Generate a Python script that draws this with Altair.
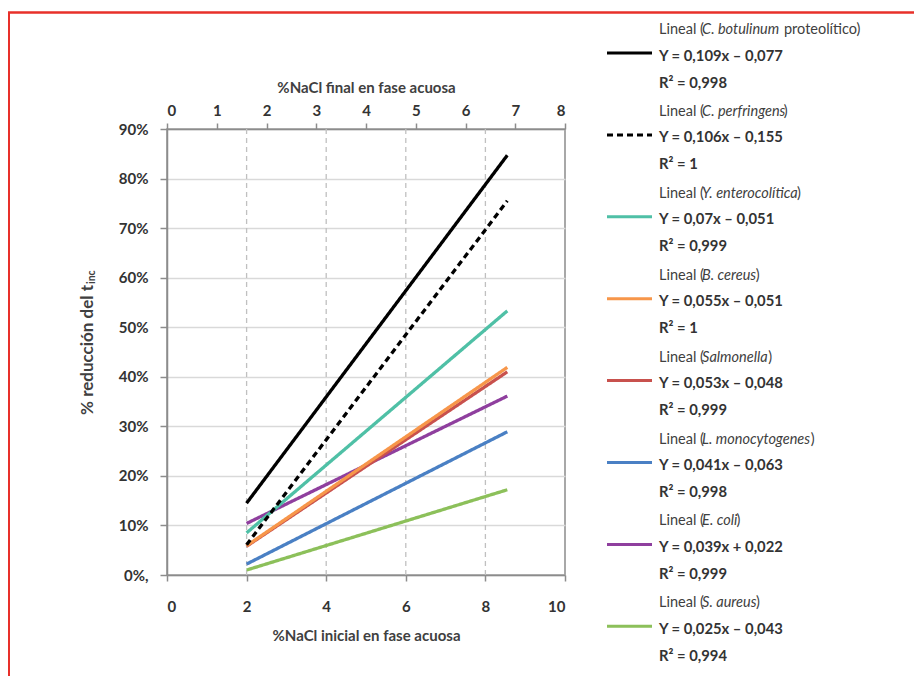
import altair as alt
import pandas as pd

# ---------------- data ----------------
species = ["C. botulinum", "C. perfringens", "Y. enterocolítica", "B. cereus",
           "Salmonella", "L. monocytogenes", "E. coli", "S. aureus"]
species_suffix = [" proteolítico)", ")", ")", ")", ")", ")", ")", ")"]
equations = ["Y = 0,109x – 0,077", "Y = 0,106x – 0,155", "Y = 0,07x – 0,051",
             "Y = 0,055x – 0,051", "Y = 0,053x – 0,048", "Y = 0,041x – 0,063",
             "Y = 0,039x + 0,022", "Y = 0,025x – 0,043"]
r_squared = ["0,998", "1", "0,999", "1", "0,999", "0,998", "0,999", "0,994"]
x_from = [2.0, 2.0, 2.0, 2.0, 2.0, 2.0, 2.0, 2.0]
x_to = [8.55, 8.55, 8.55, 8.55, 8.55, 8.55, 8.55, 8.55]
y_from = [0.145, 0.061, 0.085, 0.059, 0.058, 0.022, 0.104, 0.010]
y_to = [0.847, 0.755, 0.533, 0.419, 0.410, 0.289, 0.361, 0.172]
line_colors = ["#000000", "#000000", "#4fc0a6", "#f7964a", "#c8514d",
               "#4a80c4", "#8f3f9e", "#8cc05a"]
line_dash = [[1, 0], [6, 4], [1, 0], [1, 0], [1, 0], [1, 0], [1, 0], [1, 0]]

x_bottom_ticks = [0, 2, 4, 6, 8, 10]
x_grid_ticks = [2, 4, 6, 8]
x_top_ticks = [0, 1, 2, 3, 4, 5, 6, 7, 8]
y_ticks = [0, 0.1, 0.2, 0.3, 0.4, 0.5, 0.6, 0.7, 0.8, 0.9]

FONT = "Lato"
TXT = "#404040"
AX = "#8c8c8c"

# ---------------- helpers ----------------
W = {" ": .193, "(": .29, ")": .29, ".": .21, "L": .49, "i": .23, "n": .55,
     "e": .50, "a": .49, "l": .23, "C": .64, "b": .58, "o": .56, "t": .34,
     "u": .58, "m": .90, "p": .55, "r": .34, "f": .29, "g": .48, "s": .40,
     "Y": .58, "c": .44, "í": .23, "B": .60, "S": .49, "E": .52, "y": .48,
     "d": .55, "h": .55}


def text_width(s, size, factor=1.0):
    return sum(W.get(ch, .5) for ch in s) * size * factor


LEG_FS = 14.5
X_SYM0, X_SYM1, X_TXT = 440, 485, 492
rows = []
syms = []
for k, name in enumerate(species):
    base = -99 + 81.9 * k
    x1 = X_TXT + text_width("Lineal (", LEG_FS)
    x2 = x1 + text_width(name, LEG_FS, 0.96) + 1.2
    suf = species_suffix[k]
    lead = len(suf) - len(suf.lstrip(" "))
    x2 += text_width(" " * lead, LEG_FS)
    rows.append({"text": "Lineal (", "xp": X_TXT, "yp": base, "st": "n"})
    rows.append({"text": name, "xp": x1, "yp": base, "st": "i"})
    rows.append({"text": suf.lstrip(" "), "xp": x2, "yp": base, "st": "n"})
    rows.append({"text": equations[k], "xp": X_TXT, "yp": base + 26.5, "st": "b"})
    rows.append({"text": "R² = " + r_squared[k], "xp": X_TXT, "yp": base + 53.5, "st": "b"})
    syms.append({"species": name, "yp": base + 23})
leg_df = pd.DataFrame(rows)
sym_df = pd.DataFrame(syms)

xs = alt.Scale(domain=[0, 10], nice=False)
ys = alt.Scale(domain=[0, 0.9], nice=False)
color_scale = alt.Scale(domain=species, range=line_colors)
dash_scale = alt.Scale(domain=species, range=line_dash)

x_axis = alt.Axis(values=x_bottom_ticks, title="%NaCl inicial en fase acuosa",
                  grid=False, tickSize=6, labelPadding=18, titlePadding=14)
y_axis = alt.Axis(values=y_ticks, format=".0%", title=None, grid=True,
                  gridColor="#d9d9d9", gridWidth=1.3, tickSize=7, labelPadding=12,
                  labelExpr="datum.value == 0 ? '0%,' : format(datum.value, '.0%')")

grid = alt.Chart(pd.DataFrame({"x": x_grid_ticks})).mark_rule(
    color="#c0c0c0", strokeDash=[5, 4], strokeWidth=1.3
).encode(x=alt.X("x:Q", scale=xs, axis=x_axis))

lines_df = pd.DataFrame({"species": species, "x": x_from, "x2": x_to,
                         "y": y_from, "y2": y_to}).iloc[::-1]
lines = alt.Chart(lines_df).mark_rule(strokeWidth=3.3).encode(
    x=alt.X("x:Q", scale=xs, axis=x_axis),
    x2="x2:Q",
    y=alt.Y("y:Q", scale=ys, axis=y_axis),
    y2="y2:Q",
    color=alt.Color("species:N", scale=color_scale, legend=None),
    strokeDash=alt.StrokeDash("species:N", scale=dash_scale, legend=None),
)

main = alt.layer(grid, lines)

top = alt.Chart(pd.DataFrame({"t": x_top_ticks})).mark_point(opacity=0).encode(
    x=alt.X("t:Q", scale=alt.Scale(domain=[0, 8], nice=False),
            axis=alt.Axis(orient="top", values=x_top_ticks,
                          title="%NaCl final en fase acuosa", grid=False,
                          tickSize=6, labelPadding=5, titlePadding=8))
)

sym = alt.Chart(sym_df).mark_rule(strokeWidth=3).encode(
    x=alt.value(X_SYM0), x2=alt.value(X_SYM1),
    y=alt.Y("yp:Q", scale=None, axis=None),
    color=alt.Color("species:N", scale=color_scale, legend=None),
    strokeDash=alt.StrokeDash("species:N", scale=dash_scale, legend=None),
)


def leg_text(style, size=LEG_FS, color=TXT, **kw):
    return alt.Chart(leg_df).transform_filter(
        alt.datum.st == style
    ).mark_text(align="left", baseline="middle", font=FONT, fontSize=size,
                color=color, **kw).encode(
        x=alt.X("xp:Q", scale=None, axis=None),
        y=alt.Y("yp:Q", scale=None, axis=None),
        text="text:N",
    )


leg_n = leg_text("n")
leg_i = leg_text("i", fontStyle="italic")
leg_b = leg_text("b", size=14.8, color="#333333", fontWeight="bold")

one = pd.DataFrame({"a": [0]})
ytitle = alt.Chart(one).mark_text(
    text="% reducción del t", angle=270, align="right", baseline="middle",
    font=FONT, fontSize=17, fontWeight="bold", color=TXT
).encode(x=alt.value(-79), y=alt.value(156))
ysub = alt.Chart(one).mark_text(
    text="inc", angle=270, align="left", baseline="middle",
    font=FONT, fontSize=10.5, fontWeight="bold", color=TXT
).encode(x=alt.value(-75.5), y=alt.value(155))

border = alt.Chart(one).mark_rect(
    fillOpacity=0, stroke="#e8302a", strokeWidth=2.6
).encode(x=alt.value(-158.3), x2=alt.value(900), y=alt.value(-116.5), y2=alt.value(700))

chart = alt.layer(
    main, top, sym, leg_n, leg_i, leg_b, ytitle, ysub, border
).resolve_scale(x="independent").properties(
    width=398, height=446,
    padding={"left": 159, "top": 121, "right": 349, "bottom": 101},
    autosize=alt.AutoSizeParams(type="none"),
).configure_view(
    stroke=AX, strokeWidth=1.5
).configure_axis(
    labelFont=FONT, labelFontSize=15, labelFontWeight="bold", labelColor="#333333",
    titleFont=FONT, titleFontSize=15, titleFontWeight="bold", titleColor=TXT,
    domainColor=AX, domainWidth=1.5, tickColor=AX, tickWidth=1.5,
)

chart.save("out.html", embed_options={"renderer": "svg", "actions": False})
